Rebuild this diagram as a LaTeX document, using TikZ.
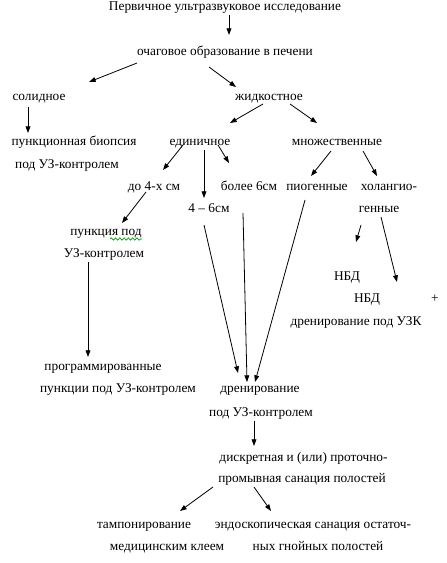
\documentclass[tikz,border=0pt]{standalone}
\usepackage{fontspec}
\setmainfont{Liberation Serif}
\usetikzlibrary{arrows.meta,decorations.pathmorphing}
\definecolor{spellgreen}{RGB}{0,150,0}

\begin{document}
\begin{tikzpicture}[x=0.75pt,y=-0.75pt,
        lbl/.style={inner sep=0pt, font=\fontsize{10}{12}\selectfont, text height=0.72em, text depth=0.22em},
        arr/.style={-{Triangle[length=5pt,width=3.6pt]}, line width=0.6pt},
        spell/.style={spellgreen, line width=0.5pt, decorate, decoration={snake, amplitude=0.9, segment length=3.2}}]
  \useasboundingbox (0,0) rectangle (446,563);

  % texts
  \node[lbl] (top)     at (225,7)   {Первичное ультразвуковое исследование};
  \node[lbl] (ochag)   at (225,52)  {очаговое образование в печени};
  \node[lbl] (solid)   at (39,97)   {солидное};
  \node[lbl] (fluid)   at (269,97)  {жидкостное};
  \node[lbl] (biopsyA) at (74,142)  {пункционная биопсия};
  \node[lbl] (biopsyB) at (67,165)  {под УЗ-контролем};
  \node[lbl] (single)  at (200,142) {единичное};
  \node[lbl] (multi)   at (337,142) {множественные};
  \node[lbl] (small)   at (154,187) {до 4-х см};
  \node[lbl] (large)   at (249,187) {более 6см};
  \node[lbl] (pyo)     at (317,187) {пиогенные};
  \node[lbl] (cholA)   at (389,187) {холангио-};
  \node[lbl] (cholB)   at (379,209) {генные};
  \node[lbl] (mid)     at (209,209) {4 – 6см};
  \node[lbl] (punctA)  at (106,232) {пункция под};
  \node[lbl] (punctB)  at (104,254) {УЗ-контролем};
  \node[lbl] (nbdA)    at (347,277) {НБД};
  \node[lbl] (nbdB)    at (367,299) {НБД};
  \node[lbl] (plus)    at (435,299) {+};
  \node[lbl] (nbdC)    at (356,322) {дренирование под УЗК};
  \node[lbl] (progA)   at (103,367) {программированные};
  \node[lbl] (progB)   at (118,389) {пункции под УЗ-контролем};
  \node[lbl] (drainA)  at (260,389) {дренирование};
  \node[lbl] (drainB)  at (261,413) {под УЗ-контролем};
  \node[lbl] (sanA)    at (303.5,458) {дискретная и (или) проточно-};
  \node[lbl] (sanB)    at (302,479) {промывная санация полостей};
  \node[lbl] (tampA)   at (144,525) {тампонирование};
  \node[lbl] (tampB)   at (167,547) {медицинским клеем};
  \node[lbl] (endoA)   at (313,525) {эндоскопическая санация остаточ-};
  \node[lbl] (endoB)   at (318,547) {ных гнойных полостей};

  % arrows
  \draw[arr] ([shift={(4,8)}]top.center) -- ([shift={(4,-17)}]ochag.center);
  \draw[arr] ([shift={(-88,11)}]ochag.center) -- ([shift={(50,-15)}]solid.center);
  \draw[arr] ([shift={(-16,15)}]ochag.center) -- ([shift={(-33,-10)}]fluid.center);
  \draw[arr] ([shift={(-11,10)}]solid.center) -- ([shift={(-46,-9)}]biopsyA.center);
  \draw[arr] ([shift={(-6,7)}]fluid.center) -- ([shift={(30,-19)}]single.center);
  \draw[arr] ([shift={(21,7)}]fluid.center) -- ([shift={(-20,-19)}]multi.center);
  \draw[arr] ([shift={(-17,3)}]single.center) -- ([shift={(9,-17)}]small.center);
  \draw[arr] ([shift={(4,8)}]single.center) -- ([shift={(-5,-11)}]mid.center);
  \draw[arr] ([shift={(18,3)}]single.center) -- ([shift={(-20,-24)}]large.center);
  \draw[arr] ([shift={(-6,9)}]multi.center) -- ([shift={(-6,-11)}]pyo.center);
  \draw[arr] ([shift={(26,9)}]multi.center) -- ([shift={(-12,-11)}]cholA.center);
  \draw[arr] ([shift={(-8,5)}]small.center) -- ([shift={(16,-9)}]punctA.center);
  \draw[arr] ([shift={(-16,8)}]punctB.center) -- ([shift={(-15,-10)}]progA.center);
  \draw[arr] ([shift={(-5,16)}]mid.center) -- ([shift={(-22,-16)}]drainA.center);
  \draw[arr] ([shift={(-6,26)}]large.center) -- ([shift={(-13,-7)}]drainA.center);
  \draw[arr] ([shift={(-12,13)}]pyo.center) -- ([shift={(-5,-7)}]drainA.center);
  \draw[arr] ([shift={(-18,16)}]cholB.center) -- ([shift={(9,-35)}]nbdA.center);
  \draw[arr] ([shift={(2,8)}]cholB.center) -- ([shift={(30,-17)}]nbdB.center);
  \draw[arr] ([shift={(-7,8)}]drainB.center) -- ([shift={(-49.5,-12)}]sanA.center);
  \draw[arr] ([shift={(-89,8)}]sanB.center) -- ([shift={(36,-14)}]tampA.center);
  \draw[arr] ([shift={(-48,8)}]sanB.center) -- ([shift={(-42,-14)}]endoA.center);

  % spell-check underline
  \draw[spell] ([shift={(4,7)}]punctA.center) -- ([shift={(36,7)}]punctA.center);
\end{tikzpicture}
\end{document}
